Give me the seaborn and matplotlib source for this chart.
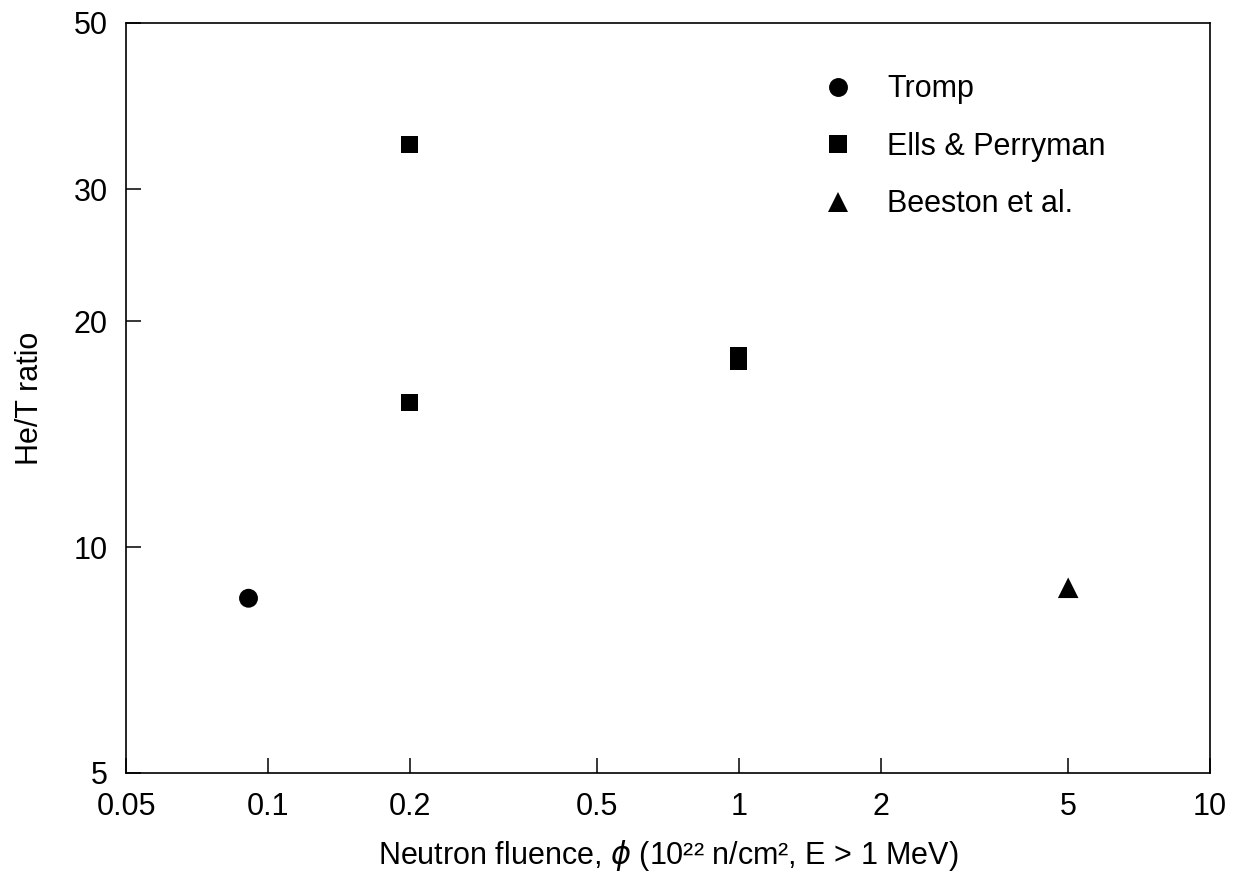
import matplotlib
matplotlib.use("Agg")
import matplotlib.pyplot as plt
import matplotlib.ticker as mticker
import seaborn as sns
import pandas as pd

# ---- data ----
series_names = ["Tromp", "Ells & Perryman", "Beeston et al."]
tromp_x = [0.091]
tromp_y = [8.55]
ells_x = [0.2, 0.2, 1.0, 1.0]
ells_y = [34.4, 15.6, 18.0, 17.7]
beeston_x = [5.0]
beeston_y = [8.83]

x_ticks = [0.05, 0.1, 0.2, 0.5, 1, 2, 5, 10]
x_tick_labels = ["0.05", "0.1", "0.2", "0.5", "1", "2", "5", "10"]
y_ticks = [5, 10, 20, 30, 50]
y_tick_labels = ["5", "10", "20", "30", "50"]

df = pd.DataFrame({
    "x": tromp_x + ells_x + beeston_x,
    "y": tromp_y + ells_y + beeston_y,
    "source": [series_names[0]] * len(tromp_x)
              + [series_names[1]] * len(ells_x)
              + [series_names[2]] * len(beeston_x),
})

sns.set_style("white")
plt.rcParams["font.family"] = ["Liberation Sans", "DejaVu Sans"]
plt.rcParams["mathtext.fontset"] = "dejavusans"
plt.rcParams["text.color"] = "black"
plt.rcParams["axes.labelcolor"] = "black"

FS = 22

fig = plt.figure(figsize=(12.38, 8.74), dpi=100)
ax = fig.add_axes([126 / 1238, 1 - 773 / 874, 1084 / 1238, 750 / 874])

sns.scatterplot(
    data=df, x="x", y="y",
    hue="source", style="source", size="source",
    hue_order=series_names, style_order=series_names, size_order=series_names,
    palette={n: "black" for n in series_names},
    markers={"Tromp": "o", "Ells & Perryman": "s", "Beeston et al.": "^"},
    sizes={"Tromp": 185, "Ells & Perryman": 150, "Beeston et al.": 220},
    linewidth=0, ax=ax,
)

ax.set_xscale("log")
ax.set_yscale("log")
ax.set_xlim(0.05, 10)
ax.set_ylim(5, 50)
ax.xaxis.set_major_locator(mticker.FixedLocator(x_ticks))
ax.xaxis.set_major_formatter(mticker.FixedFormatter(x_tick_labels))
ax.yaxis.set_major_locator(mticker.FixedLocator(y_ticks))
ax.yaxis.set_major_formatter(mticker.FixedFormatter(y_tick_labels))
ax.xaxis.set_minor_locator(mticker.NullLocator())
ax.yaxis.set_minor_locator(mticker.NullLocator())

ax.tick_params(axis="both", which="major", direction="in", length=11, width=1.1,
               labelsize=FS, colors="black", bottom=True, left=True,
               top=False, right=False)
ax.tick_params(axis="x", pad=14)
ax.tick_params(axis="y", pad=13)

for sp in ax.spines.values():
    sp.set_visible(True)
    sp.set_color("black")
    sp.set_linewidth(1.2)

ax.set_xlabel("Neutron fluence, $\\phi$ (10²² n/cm², E > 1 MeV)", fontsize=FS,
              labelpad=11, color="black")
ax.set_ylabel("He/T ratio", fontsize=FS, labelpad=21, color="black")

sns.move_legend(
    ax, "upper left", bbox_to_anchor=(0.631, 0.948), frameon=False, title=None,
    fontsize=FS, handlelength=1.0, handletextpad=1.13, labelspacing=0.9,
    borderaxespad=0,
)
for t in ax.get_legend().get_texts():
    t.set_color("black")

fig.savefig("out.png", dpi=100, facecolor="white")
